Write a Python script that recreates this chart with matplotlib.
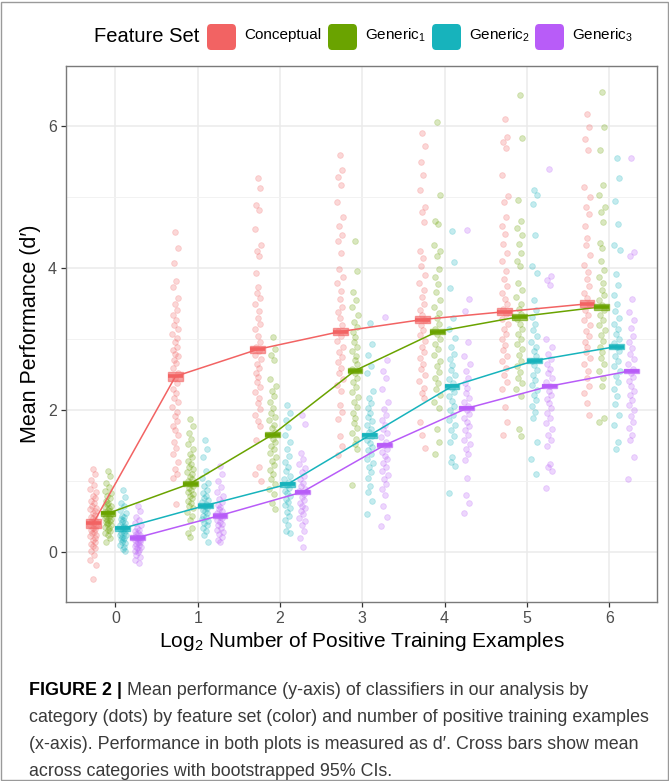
import numpy as np
import matplotlib
matplotlib.use('Agg')
import matplotlib.pyplot as plt
from matplotlib.patches import FancyBboxPatch, Rectangle

plt.rcParams['font.family'] = ['Liberation Sans', 'DejaVu Sans']
plt.rcParams['mathtext.fontset'] = 'custom'
plt.rcParams['mathtext.rm'] = 'Liberation Sans'
plt.rcParams['mathtext.it'] = 'Liberation Sans'

# ---- data ----
feature_sets = ['Conceptual', 'Generic$_1$', 'Generic$_2$', 'Generic$_3$']
colors = ['#F26363', '#6AA300', '#17B3BC', '#B85CF8']
log2_n = [0, 1, 2, 3, 4, 5, 6]

mean_conceptual = [0.41, 2.48, 2.86, 3.11, 3.28, 3.39, 3.50]
mean_generic1 = [0.55, 0.97, 1.66, 2.56, 3.11, 3.32, 3.46]
mean_generic2 = [0.34, 0.66, 0.96, 1.65, 2.34, 2.70, 2.90]
mean_generic3 = [0.21, 0.52, 0.85, 1.51, 2.03, 2.34, 2.56]

ci_conceptual = [0.06, 0.06, 0.05, 0.05, 0.05, 0.05, 0.05]
ci_generic1 = [0.04, 0.04, 0.04, 0.04, 0.04, 0.04, 0.04]
ci_generic2 = [0.035, 0.035, 0.035, 0.035, 0.035, 0.035, 0.035]
ci_generic3 = [0.03, 0.03, 0.03, 0.03, 0.03, 0.03, 0.03]

# per-category d' (dots), one list per log2 N
dots_conceptual = [
    [1.17, 1.1, 1.02, 0.95, 0.9, 0.85, 0.8, 0.77, 0.73, 0.7, 0.66, 0.63, 0.61, 0.58, 0.55, 0.53, 0.5, 0.48, 0.45,
     0.43, 0.41, 0.39, 0.37, 0.35, 0.33, 0.31, 0.29, 0.27, 0.25, 0.23, 0.2, 0.18, 0.15, 0.12, 0.09, 0.06, 0.02,
     -0.03, -0.1, -0.18, -0.37],
    [4.51, 4.29, 4.07, 3.82, 3.74, 3.59, 3.5, 3.42, 3.35, 3.28, 3.2, 3.14, 3.08, 3.02, 2.96, 2.9, 2.85, 2.8, 2.76,
     2.71, 2.67, 2.6, 2.52, 2.45, 2.38, 2.3, 2.24, 2.18, 2.12, 2.05, 1.98, 1.92, 1.85, 1.78, 1.72, 1.65, 1.56, 1.47,
     1.38, 1.28, 1.18, 1.1, 1.05, 0.68],
    [5.27, 5.13, 4.89, 4.82, 4.56, 4.33, 4.25, 4.18, 3.94, 3.74, 3.65, 3.58, 3.5, 3.4, 3.3, 3.22, 3.14, 3.05, 2.96,
     2.9, 2.84, 2.78, 2.72, 2.66, 2.6, 2.53, 2.47, 2.4, 2.33, 2.26, 2.18, 2.1, 2.02, 1.93, 1.85, 1.78, 1.59, 1.2,
     1.1, 1.0],
    [5.59, 5.38, 5.28, 5.18, 4.94, 4.72, 4.6, 4.47, 4.38, 4.21, 3.99, 3.88, 3.79, 3.68, 3.57, 3.45, 3.38, 3.3, 3.2,
     3.12, 3.05, 2.98, 2.9, 2.82, 2.75, 2.68, 2.6, 2.52, 2.44, 2.36, 2.27, 2.08, 1.98, 1.88, 1.64, 1.5, 1.37],
    [5.9, 5.72, 5.5, 5.31, 5.11, 4.87, 4.8, 4.65, 4.25, 4.15, 4.03, 3.91, 3.8, 3.7, 3.6, 3.5, 3.42, 3.35, 3.28,
     3.2, 3.13, 3.06, 2.98, 2.9, 2.82, 2.74, 2.66, 2.58, 2.5, 2.41, 2.32, 2.25, 2.18, 1.83, 1.65, 1.47],
    [6.1, 5.85, 5.78, 5.7, 5.31, 5.02, 4.94, 4.72, 4.6, 4.48, 4.35, 4.22, 4.11, 3.96, 3.85, 3.75, 3.65, 3.57, 3.5,
     3.43, 3.36, 3.29, 3.22, 3.15, 3.08, 3.0, 2.92, 2.85, 2.77, 2.69, 2.6, 2.5, 2.4, 2.3, 2.05, 1.83, 1.66],
    [6.17, 5.99, 5.82, 5.67, 5.14, 5.01, 4.87, 4.76, 4.59, 4.43, 4.33, 4.19, 4.05, 3.95, 3.85, 3.75, 3.66, 3.58,
     3.5, 3.42, 3.35, 3.28, 3.2, 3.12, 3.05, 2.97, 2.9, 2.82, 2.74, 2.65, 2.55, 2.45, 2.35, 2.24, 2.1, 1.93],
]
dots_generic1 = [
    [1.15, 1.08, 0.98, 0.92, 0.87, 0.83, 0.79, 0.76, 0.73, 0.7, 0.68, 0.66, 0.64, 0.62, 0.6, 0.58, 0.57, 0.55,
     0.53, 0.52, 0.5, 0.49, 0.47, 0.46, 0.44, 0.43, 0.41, 0.4, 0.38, 0.36, 0.34, 0.32, 0.3, 0.27, 0.24, 0.2, 0.15],
    [1.88, 1.78, 1.68, 1.6, 1.52, 1.45, 1.39, 1.34, 1.29, 1.25, 1.21, 1.17, 1.13, 1.1, 1.06, 1.03, 1.0, 0.97,
     0.94, 0.91, 0.88, 0.85, 0.82, 0.79, 0.76, 0.73, 0.7, 0.66, 0.62, 0.57, 0.52, 0.45, 0.35, 0.28, 0.22],
    [3.03, 2.86, 2.78, 2.71, 2.44, 2.35, 2.27, 2.2, 2.12, 2.03, 1.97, 1.91, 1.86, 1.8, 1.75, 1.7, 1.65, 1.6, 1.55,
     1.5, 1.45, 1.4, 1.35, 1.29, 1.23, 1.16, 1.1, 1.03, 0.97, 0.9, 0.82, 0.7, 0.61],
    [4.39, 3.96, 3.67, 3.55, 3.45, 3.35, 3.25, 3.18, 3.1, 3.03, 2.96, 2.9, 2.83, 2.77, 2.71, 2.65, 2.58, 2.52,
     2.46, 2.4, 2.33, 2.26, 2.19, 2.12, 2.05, 1.97, 1.9, 1.82, 1.75, 1.68, 1.6, 1.52, 1.45, 0.95],
    [6.06, 5.04, 4.67, 4.62, 4.33, 4.25, 4.18, 3.99, 3.88, 3.78, 3.67, 3.55, 3.45, 3.37, 3.3, 3.22, 3.15, 3.08,
     3.0, 2.93, 2.86, 2.78, 2.7, 2.62, 2.54, 2.46, 2.38, 2.3, 2.21, 2.12, 2.03, 1.74, 1.55, 1.39],
    [6.44, 5.84, 4.97, 4.67, 4.57, 4.47, 4.35, 4.22, 4.1, 4.03, 3.79, 3.7, 3.6, 3.5, 3.43, 3.36, 3.29, 3.22, 3.15,
     3.08, 3.0, 2.93, 2.86, 2.78, 2.7, 2.62, 2.54, 2.46, 2.38, 2.3, 2.2, 1.74, 1.64],
    [6.49, 5.99, 5.67, 5.18, 5.04, 4.87, 4.8, 4.65, 4.36, 4.29, 4.1, 3.98, 3.88, 3.79, 3.7, 3.62, 3.55, 3.48, 3.41,
     3.34, 3.27, 3.2, 3.13, 3.06, 2.98, 2.9, 2.82, 2.74, 2.65, 2.55, 2.45, 2.35, 1.9, 1.84],
]
dots_generic2 = [
    [0.88, 0.78, 0.7, 0.65, 0.6, 0.56, 0.52, 0.5, 0.47, 0.45, 0.43, 0.41, 0.39, 0.37, 0.36, 0.34, 0.33, 0.31,
     0.3, 0.28, 0.27, 0.25, 0.24, 0.22, 0.21, 0.19, 0.17, 0.15, 0.13, 0.11, 0.08, 0.05, 0.02],
    [1.59, 1.46, 1.34, 1.14, 1.05, 0.98, 0.93, 0.88, 0.84, 0.8, 0.77, 0.74, 0.71, 0.68, 0.66, 0.63, 0.6, 0.58,
     0.55, 0.52, 0.5, 0.47, 0.44, 0.41, 0.38, 0.34, 0.3, 0.25, 0.15],
    [2.08, 1.96, 1.86, 1.76, 1.66, 1.55, 1.45, 1.36, 1.28, 1.2, 1.14, 1.08, 1.03, 0.99, 0.95, 0.91, 0.87, 0.83,
     0.79, 0.75, 0.71, 0.67, 0.62, 0.57, 0.51, 0.45, 0.38, 0.3, 0.27],
    [3.23, 2.93, 2.78, 2.62, 2.52, 2.28, 2.18, 2.1, 2.03, 1.97, 1.91, 1.85, 1.79, 1.74, 1.69, 1.64, 1.59, 1.54,
     1.49, 1.44, 1.38, 1.32, 1.26, 1.2, 1.13, 1.05, 0.93, 0.85, 0.72, 0.54],
    [4.53, 4.09, 3.72, 3.3, 3.15, 3.02, 2.9, 2.8, 2.72, 2.64, 2.57, 2.5, 2.44, 2.38, 2.32, 2.26, 2.2, 2.13, 2.06,
     2.0, 1.93, 1.86, 1.79, 1.72, 1.64, 1.55, 1.34, 1.28, 1.22, 0.83],
    [5.11, 5.03, 4.91, 4.47, 4.03, 3.94, 3.55, 3.42, 3.32, 3.22, 3.13, 3.05, 2.97, 2.9, 2.83, 2.76, 2.7, 2.64,
     2.57, 2.5, 2.43, 2.36, 2.29, 2.22, 2.14, 2.06, 1.98, 1.9, 1.56, 1.32, 1.1],
    [5.55, 5.27, 4.95, 4.62, 4.33, 4.26, 3.92, 3.77, 3.63, 3.5, 3.4, 3.3, 3.22, 3.15, 3.08, 3.01, 2.95, 2.89,
     2.83, 2.77, 2.7, 2.63, 2.56, 2.48, 2.4, 2.3, 2.2, 2.09, 1.93, 1.8, 1.55, 1.46],
]
dots_generic3 = [
    [0.66, 0.58, 0.5, 0.45, 0.41, 0.38, 0.35, 0.32, 0.3, 0.28, 0.26, 0.24, 0.22, 0.21, 0.2, 0.18, 0.17, 0.15,
     0.14, 0.12, 0.11, 0.09, 0.08, 0.06, 0.04, 0.02, 0.0, -0.03, -0.06, -0.1, -0.15],
    [1.22, 1.1, 1.0, 0.92, 0.85, 0.8, 0.75, 0.71, 0.67, 0.64, 0.61, 0.58, 0.55, 0.53, 0.5, 0.48, 0.45, 0.43, 0.4,
     0.38, 0.35, 0.32, 0.29, 0.26, 0.22, 0.18, 0.15],
    [1.93, 1.81, 1.4, 1.32, 1.25, 1.19, 1.13, 1.08, 1.03, 0.98, 0.94, 0.9, 0.86, 0.82, 0.78, 0.74, 0.7, 0.66,
     0.62, 0.58, 0.54, 0.49, 0.44, 0.38, 0.3, 0.2, 0.08],
    [3.31, 2.71, 2.55, 2.45, 2.3, 2.12, 2.02, 1.94, 1.87, 1.8, 1.74, 1.68, 1.62, 1.56, 1.51, 1.46, 1.41, 1.36,
     1.31, 1.26, 1.21, 1.15, 1.09, 1.03, 0.97, 0.9, 0.81, 0.65, 0.5, 0.37],
    [4.54, 3.57, 3.4, 2.96, 2.77, 2.65, 2.55, 2.46, 2.38, 2.31, 2.24, 2.18, 2.12, 2.06, 2.0, 1.95, 1.9, 1.84,
     1.78, 1.72, 1.66, 1.59, 1.52, 1.45, 1.38, 1.3, 1.05, 0.81, 0.7, 0.56],
    [5.4, 3.89, 3.83, 3.77, 3.0, 2.9, 2.8, 2.72, 2.65, 2.58, 2.52, 2.46, 2.4, 2.34, 2.28, 2.22, 2.16, 2.1, 2.03,
     1.96, 1.89, 1.82, 1.74, 1.66, 1.58, 1.5, 1.25, 1.2, 1.15, 0.91],
    [5.56, 4.23, 4.17, 3.57, 3.39, 3.27, 3.16, 3.05, 2.96, 2.88, 2.8, 2.73, 2.66, 2.59, 2.53, 2.47, 2.41, 2.35,
     2.28, 2.21, 2.14, 2.07, 2.0, 1.92, 1.84, 1.75, 1.65, 1.58, 1.34, 1.04],
]

means = [mean_conceptual, mean_generic1, mean_generic2, mean_generic3]
cis = [ci_conceptual, ci_generic1, ci_generic2, ci_generic3]
dots = [dots_conceptual, dots_generic1, dots_generic2, dots_generic3]

dodge = [-0.27, -0.09, 0.09, 0.27]
jit = np.array([0.0, 0.028, -0.021, 0.012, -0.034, 0.036, -0.008, 0.02, -0.027, 0.005,
                -0.015, 0.031, -0.038, 0.016, -0.003, 0.024, -0.031])

fig = plt.figure(figsize=(6.69, 7.81), dpi=100)
ax = fig.add_axes([0.0987, 0.229, 0.8833, 0.6865])

for k in range(4):
    for i, x in enumerate(log2_n):
        vals = np.array(dots[k][i])
        xs = x + dodge[k] + np.resize(jit, len(vals))
        ax.scatter(xs, vals, s=17, facecolor=colors[k], edgecolor=colors[k],
                   linewidths=0.6, alpha=0.25, zorder=2)

for k in range(4):
    xs = np.array(log2_n) + dodge[k]
    ax.plot(xs, means[k], color=colors[k], lw=1.1, zorder=3)
    for i, x in enumerate(xs):
        m, c = means[k][i], cis[k][i]
        ax.add_patch(Rectangle((x - 0.09, m - c), 0.18, 2 * c, facecolor=colors[k],
                               edgecolor=colors[k], alpha=0.6, lw=1, zorder=4))
        ax.plot([x - 0.09, x + 0.09], [m, m], color=colors[k], lw=2.6,
                solid_capstyle='butt', zorder=5)

ax.set_xlim(-0.6, 6.58)
ax.set_ylim(-0.70, 6.85)
ax.set_xticks(log2_n)
ax.set_yticks([0, 2, 4, 6])
ax.set_yticks([1, 3, 5], minor=True)
ax.grid(which='major', color='#EBEBEB', lw=1.1, zorder=0)
ax.grid(which='minor', axis='y', color='#F2F2F2', lw=0.7, zorder=0)
ax.set_axisbelow(True)
ax.tick_params(which='minor', length=0)
ax.tick_params(which='major', length=3.5, width=0.9, color='#333333',
               labelcolor='#4D4D4D', labelsize=11.5, pad=3)
for s in ax.spines.values():
    s.set_color('#7A7A7A')
    s.set_linewidth(1.0)

ax.set_xlabel('Log$_2$ Number of Positive Training Examples', fontsize=15, labelpad=3)
ax.set_ylabel("Mean Performance (d\u2032)", fontsize=15.5, labelpad=5)

# legend along the top
fig.text(94 / 669, 1 - 36 / 781, 'Feature Set', fontsize=14.5, va='center', ha='left')
key_x = [207, 328, 432, 535]
for k in range(4):
    fig.add_artist(FancyBboxPatch((key_x[k] / 669, 1 - 50 / 781), 29 / 669, 26 / 781,
                                  boxstyle='round,pad=0,rounding_size=0.006',
                                  transform=fig.transFigure, facecolor=colors[k],
                                  edgecolor='none'))
    fig.text((key_x[k] + 37) / 669, 1 - 35 / 781, feature_sets[k], fontsize=11,
             va='center', ha='left')

# caption
cap_font = ['Liberation Sans Narrow', 'Liberation Sans', 'DejaVu Sans']
cap_size = 12.9
t = fig.text(29 / 669, 1 - 695 / 781, 'FIGURE 2 |', fontsize=cap_size, fontweight='bold',
             family=cap_font, va='baseline')
ax.annotate(' Mean performance (y-axis) of classifiers in our analysis by', xy=(1, 0),
            xycoords=t, xytext=(0, 0), textcoords='offset points', fontsize=cap_size,
            family=cap_font, va='bottom', annotation_clip=False, color='#3A3A3A')
cap_lines = ['category (dots) by feature set (color) and number of positive training examples',
             '(x-axis). Performance in both plots is measured as d\u2032. Cross bars show mean',
             'across categories with bootstrapped 95% CIs.']
for j, line in enumerate(cap_lines):
    fig.text(29 / 669, 1 - (722 + 27 * j) / 781, line, fontsize=cap_size, family=cap_font,
             va='baseline', color='#3A3A3A')

fig.add_artist(Rectangle((0.001, 0.001), 0.997, 0.997, transform=fig.transFigure,
                         fill=False, edgecolor='#9A9A9A', lw=1))

fig.savefig('out.png', dpi=100)
